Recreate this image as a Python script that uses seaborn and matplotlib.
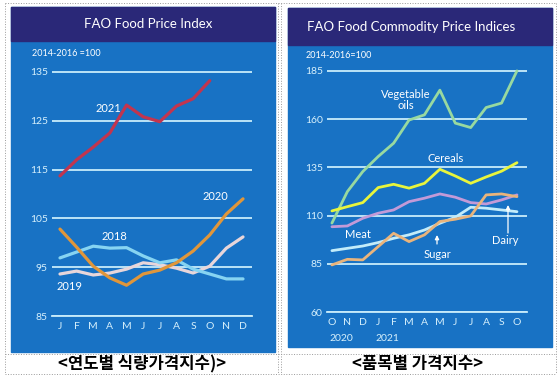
import matplotlib
matplotlib.use("Agg")
import matplotlib.pyplot as plt
from matplotlib.patches import Rectangle
from matplotlib.lines import Line2D
import seaborn as sns
import pandas as pd

# ---- data ----
months_l = ["J", "F", "M", "A", "M", "J", "J", "A", "S", "O", "N", "D"]
y2021 = [113.7, 117.0, 119.6, 122.5, 128.2, 125.8, 124.8, 128.0, 129.5, 133.2]
y2020 = [102.8, 99.1, 95.2, 92.8, 91.3, 93.6, 94.4, 95.9, 98.3, 101.6, 105.9, 109.0]
y2018 = [96.9, 98.1, 99.3, 98.9, 99.0, 97.3, 95.9, 96.5, 94.6, 93.6, 92.6, 92.6]
y2019 = [93.6, 94.2, 93.4, 93.8, 94.6, 95.9, 95.5, 94.8, 93.8, 95.2, 98.9, 101.2]
ticks_l = [85, 95, 105, 115, 125, 135]

months_r = ["O", "N", "D", "J", "F", "M", "A", "M", "J", "J", "A", "S", "O"]
veg_oils = [106.1, 122.4, 132.8, 140.6, 147.5, 159.5, 162.2, 175.0, 157.9, 155.6, 166.0, 168.3, 185.0]
cereals = [112.4, 114.6, 116.7, 124.5, 126.2, 124.2, 126.7, 134.0, 130.5, 126.7, 130.0, 133.0, 137.4]
meat = [104.2, 104.6, 108.6, 111.2, 112.9, 117.2, 119.0, 121.2, 119.5, 116.7, 116.0, 118.1, 120.7]
dairy = [91.8, 93.0, 94.2, 96.0, 98.2, 100.0, 102.5, 106.0, 109.1, 114.3, 113.8, 112.9, 112.0]
sugar = [84.4, 87.3, 87.0, 93.9, 100.8, 96.5, 100.0, 106.9, 108.1, 109.8, 120.7, 121.2, 119.8]
ticks_r = [60, 85, 110, 135, 160, 185]

BLUE = "#1872c4"
NAVY = "#2a2878"
GRID = "#c8ecfb"
TXT = "#d6f0fc"

W, H = 560, 376
def fx(x): return x / W
def fy(y): return 1 - y / H

sns.set_theme(style="white")
plt.rcParams["font.family"] = ["Lato", "DejaVu Sans"]

fig = plt.figure(figsize=(5.6, 3.76), dpi=100, facecolor="white")

# panel backgrounds and title bars
for (x0, x1, y0, y1, yt) in [(11, 275, 7, 352, 41), (288, 552, 8, 347, 45)]:
    fig.add_artist(Rectangle((fx(x0), fy(y1)), fx(x1 - x0), (y1 - y0) / H,
                             transform=fig.transFigure, color=BLUE, zorder=0))
    fig.add_artist(Rectangle((fx(x0), fy(yt)), fx(x1 - x0), (yt - y0) / H,
                             transform=fig.transFigure, color=NAVY, zorder=0))

# table borders
lk = dict(transform=fig.transFigure, color="#9a9a9a", lw=0.7, ls=":", zorder=1)
for (xa, ya, xb, yb) in [(5, 3, 556, 3), (5, 374, 556, 374), (5, 3, 5, 374), (556, 3, 556, 374),
                         (278, 3, 278, 374), (281, 3, 281, 374), (5, 354, 556, 354)]:
    fig.add_artist(Line2D([fx(xa), fx(xb)], [fy(ya), fy(yb)], **lk))


def style_axes(ax, labels, ticks):
    ax.set_facecolor("none")
    for s in ["top", "right", "left"]:
        ax.spines[s].set_visible(False)
    ax.spines["bottom"].set_color(GRID)
    ax.spines["bottom"].set_linewidth(1.3)
    ax.set_xticks(range(len(labels)))
    ax.set_xticklabels(labels)
    ax.set_yticks(ticks)
    ax.yaxis.grid(True, color=GRID, lw=1.3)
    ax.tick_params(axis="x", direction="in", length=4.5, width=1, color=GRID,
                   labelcolor=TXT, labelsize=7.5, pad=4)
    ax.tick_params(axis="y", length=0, labelcolor=TXT, labelsize=7.5, pad=3)
    ax.set_xlabel("")
    ax.set_ylabel("")


# ---- left panel: FAO Food Price Index ----
axl = fig.add_axes([fx(52), fy(316), fx(252 - 52), (316 - 67) / H])
left_df = pd.concat([
    pd.DataFrame({"m": range(len(v)), "val": v, "year": name})
    for name, v in [("2019", y2019), ("2018", y2018), ("2020", y2020), ("2021", y2021)]
])
pal_l = {"2021": "#c2354f", "2020": "#e0963a", "2018": "#86d4f2", "2019": "#e8d6da"}
sns.lineplot(data=left_df, x="m", y="val", hue="year", palette=pal_l, lw=2.3,
             legend=False, ax=axl)
axl.set_xlim(-0.48, 11.54)
axl.set_ylim(85, 136)
style_axes(axl, months_l, ticks_l)

fig.text(fx(148), fy(24), "FAO Food Price Index", color="white", fontsize=9.5,
         ha="center", va="center")
fig.text(fx(32), fy(53), "2014-2016 =100", color="white", fontsize=6.5, ha="left", va="center")
for t, x, y in [("2021", 108, 108), ("2020", 215, 197), ("2018", 114, 237), ("2019", 70, 287)]:
    fig.text(fx(x), fy(y), t, color="white", fontsize=8, ha="center", va="center")

# ---- right panel: FAO Food Commodity Price Indices ----
axr = fig.add_axes([fx(327), fy(312), fx(527 - 327), (312 - 67) / H])
right_df = pd.concat([
    pd.DataFrame({"m": range(len(v)), "val": v, "item": name})
    for name, v in [("Vegetable oils", veg_oils), ("Cereals", cereals), ("Meat", meat),
                    ("Dairy", dairy), ("Sugar", sugar)]
])
pal_r = {"Vegetable oils": "#98d9a0", "Cereals": "#e8f53c", "Meat": "#c29ad8",
         "Dairy": "#c2ecfa", "Sugar": "#e9b47c"}
sns.lineplot(data=right_df, x="m", y="val", hue="item", palette=pal_r, lw=2.0,
             legend=False, ax=axr)
axr.set_xlim(-0.32, 12.65)
axr.set_ylim(60, 187)
style_axes(axr, months_r, ticks_r)

for t, i in [("2020", 0.6), ("2021", 3.6)]:
    axr.text(i, -0.11, t, transform=axr.get_xaxis_transform(), color=TXT,
             fontsize=7.5, ha="center", va="center")

fig.text(fx(307), fy(27), "FAO Food Commodity Price Indices", color="white", fontsize=9.5,
         ha="left", va="center")
fig.text(fx(306), fy(55), "2014-2016=100", color="white", fontsize=6.5, ha="left", va="center")
for t, x, y in [("Vegetable\noils", 406, 100), ("Cereals", 446, 158), ("Meat", 358, 234),
                ("Sugar", 437, 254), ("Dairy", 505, 241)]:
    fig.text(fx(x), fy(y), t, color="white", fontsize=8, ha="center", va="center",
             linespacing=0.9)
for (x, ya, yb) in [(437, 244, 235), (508, 233, 205)]:
    axr.annotate("", xy=(fx(x), fy(yb)), xytext=(fx(x), fy(ya)),
                 xycoords="figure fraction", textcoords="figure fraction",
                 arrowprops=dict(arrowstyle="-|>", color="white", lw=0.9,
                                 mutation_scale=6, shrinkA=0, shrinkB=0))

# ---- Korean captions ----
cap = dict(fontsize=12, fontweight="bold", color="black", ha="center", va="center",
           family=["Noto Sans CJK KR", "DejaVu Sans"])
fig.text(fx(142), fy(364), "<연도별 식량가격지수)>", **cap)
fig.text(fx(418), fy(364), "<품목별 가격지수>", **cap)

fig.savefig("out.png", dpi=100, facecolor="white")
